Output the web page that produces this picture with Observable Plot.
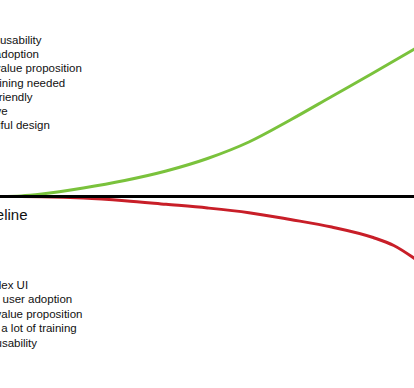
<!DOCTYPE html>
<html>
<head>
<meta charset="utf-8">
<script src="https://cdn.jsdelivr.net/npm/d3@7"></script>
<script src="https://cdn.jsdelivr.net/npm/@observablehq/plot@0.6"></script>
<style>
  html, body { margin: 0; padding: 0; background: #fff; }
  svg { display: block; }
</style>
</head>
<body>
<div id="chart"></div>
<script>
// Time steps (arbitrary units)
const steps = [0, 0.5, 1, 2, 3, 4, 5, 6, 7, 8, 9, 9.5, 10];
// Good UX impact (above baseline)
const goodImpact = [0, 0.06, 0.25, 0.85, 1.6, 2.55, 3.8, 5.45, 7.65, 10.0, 12.35, 13.55, 14.75];
// Bad UX impact (below baseline)
const badImpact = [0, 0, -0.02, -0.15, -0.42, -0.78, -1.15, -1.62, -2.3, -3.05, -4.1, -4.9, -6.2];

const goodLabels = [
  "Great usability",
  "High adoption",
  "High value proposition",
  "No training needed",
  "User friendly",
  "Intuitive",
  "Beautiful design"
];
const badLabels = [
  "Complex UI",
  "Lower user adoption",
  "Poor value proposition",
  "Takes a lot of training",
  "Poor usability"
];
const baselineLabel = "Baseline";

const good = steps.map((t, i) => ({t, v: goodImpact[i]}));
const bad = steps.map((t, i) => ({t, v: badImpact[i]}));

const FONT = "'Liberation Sans', Arial, Helvetica, sans-serif";

const chart = Plot.plot({
  width: 414,
  height: 388,
  margin: 0,
  x: {domain: [0, 10], axis: null},
  y: {domain: [-19.2, 19.6], axis: null},
  style: {fontFamily: FONT, background: "#fff", color: "#111"},
  marks: [
    Plot.line(bad, {x: "t", y: "v", stroke: "#c81e28", strokeWidth: 3, curve: "monotone-x"}),
    Plot.line(good, {x: "t", y: "v", stroke: "#7ac23c", strokeWidth: 3, curve: "monotone-x"}),
    Plot.ruleY([0], {stroke: "#000", strokeWidth: 3}),
    Plot.text([goodLabels.join("\n")], {
      frameAnchor: "top-left", textAnchor: "start", lineAnchor: "top",
      dx: -32.5, dy: 33.3, fontSize: 11.5, fontFamily: FONT, lineHeight: 1.24, fill: "#111", text: d => d
    }),
    Plot.text([badLabels.join("\n")], {
      frameAnchor: "top-left", textAnchor: "start", lineAnchor: "top",
      dx: -32.5, dy: 278.3, fontSize: 11.5, fontFamily: FONT, lineHeight: 1.25, fill: "#111", text: d => d
    }),
    Plot.text([baselineLabel], {
      x: 0, y: 0, textAnchor: "start", lineAnchor: "top",
      dx: -30.5, dy: 12.6, fontSize: 15, fontFamily: FONT, fill: "#111", text: d => d
    })
  ]
});
document.getElementById("chart").appendChild(chart);
</script>
</body>
</html>
